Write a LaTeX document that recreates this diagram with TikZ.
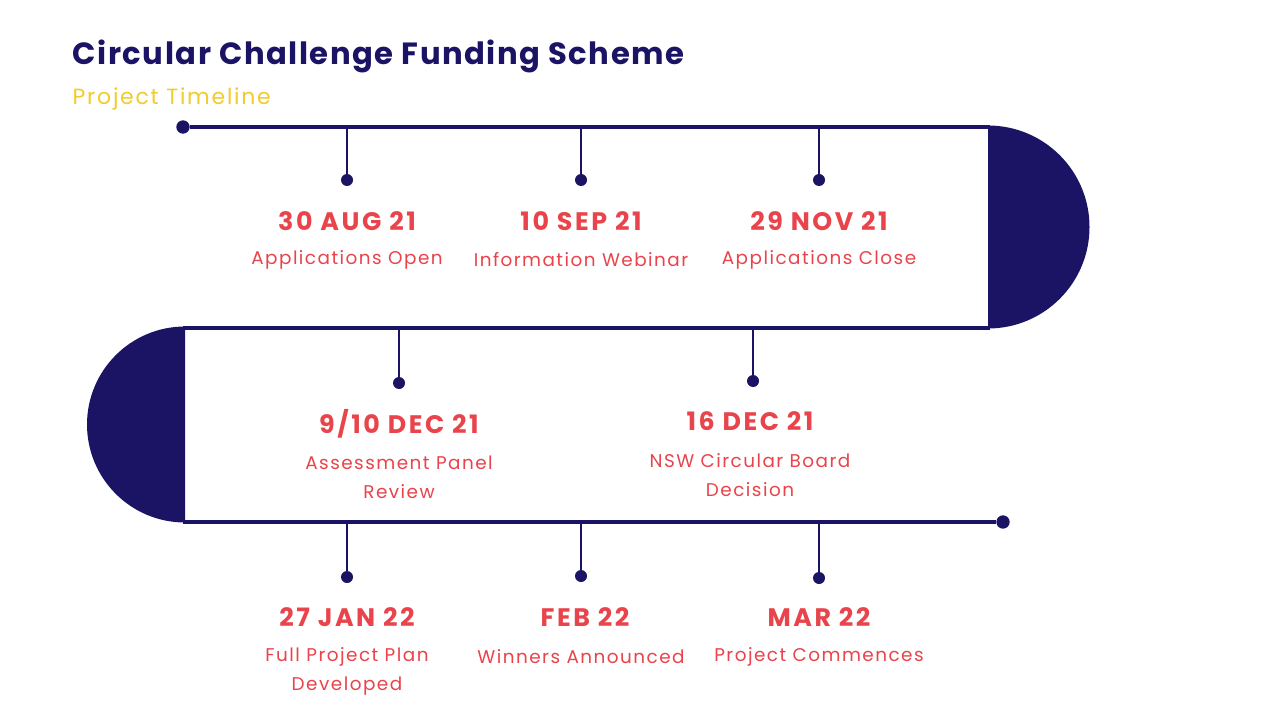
\documentclass[tikz,border=0pt]{standalone}
\usepackage{fontspec}
\setmainfont{Poppins}
\newfontfamily\descfont[LetterSpace=8]{Poppins}
\newfontfamily\datefont[LetterSpace=10]{Poppins}
\newfontfamily\titlefont[LetterSpace=5]{Poppins}
\usetikzlibrary{positioning}
\definecolor{navy}{HTML}{1B1464}
\definecolor{datered}{HTML}{E9434B}
\definecolor{gold}{HTML}{F2CB2C}
\tikzset{
  track/.style={navy, line width=3pt},
  stem/.style={navy, line width=2.2pt},
  pin/.style={circle, fill=navy, inner sep=0pt, minimum size=9pt},
  datelbl/.style={text=datered, font=\datefont\bfseries\fontsize{19}{22}\selectfont},
  desclbl/.style={text=datered, font=\descfont\fontsize{13.8}{21.75}\selectfont, align=center}
}
\begin{document}
\begin{tikzpicture}[x=0.75pt, y=-0.75pt]
\useasboundingbox[fill=white] (0,0) rectangle (1280,720);
% heading
\node[anchor=west, text=navy, font=\titlefont\bfseries\fontsize{23}{26}\selectfont] (title) at (68,56) {Circular Challenge Funding Scheme};
\node[anchor=west, text=gold, font=\descfont\fontsize{16.5}{18}\selectfont] (subtitle) at (68,99) {Project Timeline};
% track
\node[pin, minimum size=10pt] (start) at (183,127) {};
\node[pin, minimum size=10pt] (finish) at (1003,522) {};
\coordinate (tr) at (990,127);
\coordinate (mr) at (990,328);
\coordinate (ml) at (183,328);
\coordinate (bl) at (183,522);
\draw[track] (start) -- (tr);
\draw[track] (ml) -- (mr);
\draw[track] (bl) -- (finish);
\fill[navy] (988,125.5) arc(-90:90:101.5) -- cycle;
\fill[navy] (185,326.5) arc(-90:-270:98) -- cycle;
% first row
\node[pin] (p1) at (347,180) {};
\node[pin] (p2) at (581,180) {};
\node[pin] (p3) at (819,180) {};
\draw[stem] (347,127) -- (p1);
\draw[stem] (581,127) -- (p2);
\draw[stem] (819,127) -- (p3);
\node[datelbl] (d1) at (347,221) {30 AUG 21};
\node[datelbl] (d2) at (581,221) {10 SEP 21};
\node[datelbl] (d3) at (819,221) {29 NOV 21};
\node[desclbl] (t1) at (347,260) {Applications Open};
\node[desclbl] (t2) at (581,260) {Information Webinar};
\node[desclbl] (t3) at (819,260) {Applications Close};
% second row
\node[pin] (p4) at (399,383) {};
\node[pin] (p5) at (753,381) {};
\draw[stem] (399,328) -- (p4);
\draw[stem] (753,328) -- (p5);
\node[datelbl] (d4) at (399,424) {9/10 DEC 21};
\node[datelbl] (d5) at (750,421) {16 DEC 21};
\node[desclbl] (t4) at (399,477) {Assessment Panel\\Review};
\node[desclbl] (t5) at (750,475) {NSW Circular Board\\Decision};
% third row
\node[pin] (p6) at (347,577) {};
\node[pin] (p7) at (581,576) {};
\node[pin] (p8) at (819,578) {};
\draw[stem] (347,522) -- (p6);
\draw[stem] (581,522) -- (p7);
\draw[stem] (819,522) -- (p8);
\node[datelbl] (d6) at (347,617) {27 JAN 22};
\node[datelbl] (d7) at (585,617) {FEB 22};
\node[datelbl] (d8) at (819,617) {MAR 22};
\node[desclbl] (t6) at (347,671.5) {Full Project Plan\\Developed};
\node[desclbl] (t7) at (581,657) {Winners Announced};
\node[desclbl] (t8) at (819,657) {Project Commences};
\end{tikzpicture}
\end{document}
